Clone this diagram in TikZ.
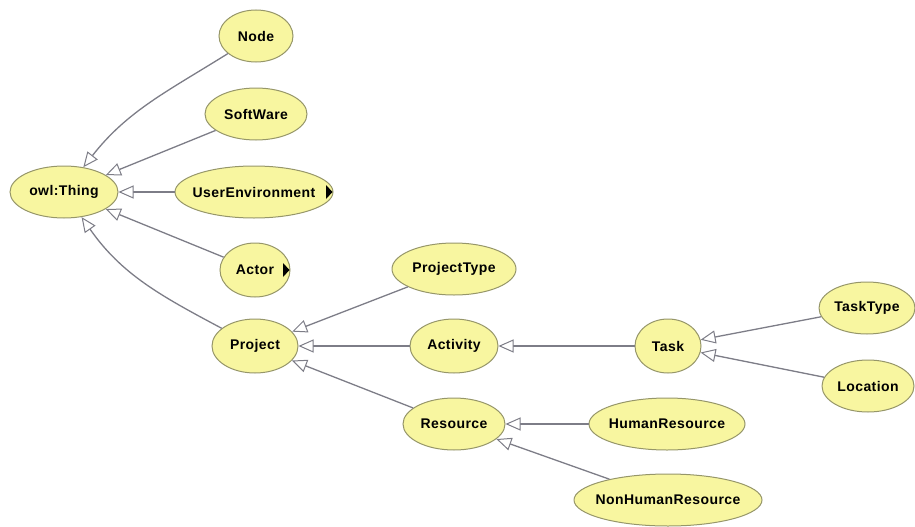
\documentclass[tikz,border=0pt]{standalone}
\usepackage{fontspec}
\setmainfont{Liberation Sans}
\usetikzlibrary{shapes.geometric,arrows.meta}
\definecolor{clsfill}{RGB}{248,246,160}
\definecolor{clsline}{RGB}{150,150,105}
\definecolor{edgegray}{RGB}{125,125,135}
\newfontfamily\clsfont[LetterSpace=3]{Liberation Sans}
\tikzset{
  cls/.style={ellipse, draw=clsline, line width=1pt, fill=clsfill,
    inner sep=0pt, font=\clsfont\fontsize{14}{16}\selectfont\bfseries},
  isa/.style={draw=edgegray, line width=1.3pt,
    -{Triangle[length=15pt, width=13pt, fill=white, line width=1pt]}},
  more/.style={fill=black}
}
% the ellipse size is set only by its width and height; the label is centred on it
\newcommand{\clsnode}[5]{%
  \node[cls, minimum width=#4pt, minimum height=#5pt] (#1) at #2
    {\makebox[0pt][c]{#3}};}
\begin{document}
\begin{tikzpicture}[x=1pt, y=-1pt]
  \useasboundingbox (0,0) rectangle (915,527);

  % class hierarchy nodes
  \clsnode{thing}{(64,192)}{owl:Thing}{108}{52}
  \clsnode{node}{(256,36)}{Node}{74}{52}
  \clsnode{software}{(256,114)}{SoftWare}{102}{52}
  \clsnode{userenv}{(254,192)}{UserEnvironment}{158}{52}
  \clsnode{actor}{(255,270)}{Actor}{70}{54}
  \clsnode{project}{(255,346)}{Project}{86}{54}
  \clsnode{projecttype}{(454,269)}{ProjectType}{124}{52}
  \clsnode{activity}{(454,346)}{Activity}{88}{54}
  \clsnode{resource}{(454,424)}{Resource}{102}{52}
  \clsnode{task}{(668,346)}{Task}{66}{54}
  \clsnode{tasktype}{(867,308)}{TaskType}{96}{52}
  \clsnode{location}{(868,386)}{Location}{92}{52}
  \clsnode{human}{(667,424)}{HumanResource}{156}{52}
  \clsnode{nonhuman}{(668,500)}{NonHumanResource}{188}{52}

  % markers for classes with hidden subclasses
  \fill[more] ([xshift=-7.5pt]userenv.east) ++(0,-7) -- ++(6.5,7) -- ++(-6.5,7) -- cycle;
  \fill[more] ([xshift=-7.5pt]actor.east) ++(0,-7) -- ++(6.5,7) -- ++(-6.5,7) -- cycle;

  % subclass links
  \draw[isa] (node) to[out=212, in=52] (thing);
  \draw[isa] (software) -- (thing);
  \draw[isa] (userenv) -- (thing);
  \draw[isa] (actor) -- (thing);
  \draw[isa] (project) to[out=152, in=-55] (thing);
  \draw[isa] (projecttype) -- (project);
  \draw[isa] (activity) -- (project);
  \draw[isa] (resource) -- (project);
  \draw[isa] (task) -- (activity);
  \draw[isa] (tasktype) -- (task);
  \draw[isa] (location) -- (task);
  \draw[isa] (human) -- (resource);
  \draw[isa] (nonhuman) -- (resource);
\end{tikzpicture}
\end{document}
